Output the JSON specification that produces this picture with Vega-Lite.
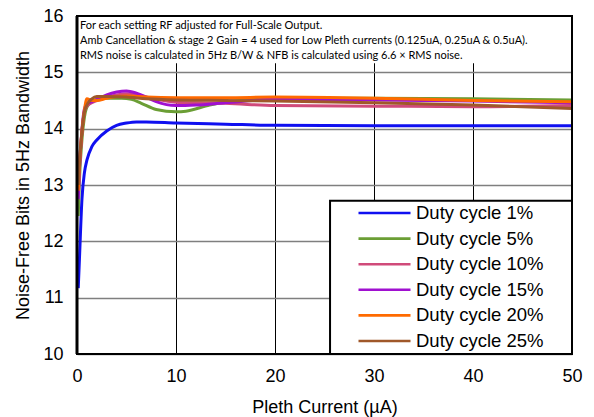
{
  "$schema": "https://vega.github.io/schema/vega-lite/v6.json",
  "width": 495,
  "height": 338,
  "autosize": {"type": "none"},
  "padding": {"left": 77, "top": 16, "right": 22, "bottom": 63},
  "background": "white",
  "config": {
    "view": {"stroke": null},
    "font": "Liberation Sans",
    "axis": {
      "labelFont": "Liberation Sans",
      "titleFont": "Liberation Sans",
      "labelFontSize": 18,
      "titleFontSize": 18,
      "titleFontWeight": "normal",
      "labelColor": "#000000",
      "titleColor": "#000000",
      "labelFlush": false,
      "ticks": false,
      "domain": false,
      "format": "d"
    },
    "legend": {
      "orient": "none",
      "legendX": 280,
      "legendY": 189,
      "padding": 0,
      "symbolType": "stroke",
      "symbolSize": 2704,
      "symbolStrokeWidth": 2.6,
      "clipHeight": 16,
      "rowPadding": 6.6,
      "labelFont": "Liberation Sans",
      "labelFontSize": 18.5,
      "labelColor": "#000000",
      "labelOffset": 4,
      "labelLimit": 200
    }
  },
  "datasets": {
    "nfb": [
      {"series": "Duty cycle 1%", "current": 0.125, "bits": 11.17},
      {"series": "Duty cycle 1%", "current": 0.25, "bits": 11.7},
      {"series": "Duty cycle 1%", "current": 0.5, "bits": 12.75},
      {"series": "Duty cycle 1%", "current": 0.75, "bits": 13.22},
      {"series": "Duty cycle 1%", "current": 1, "bits": 13.44},
      {"series": "Duty cycle 1%", "current": 1.5, "bits": 13.68},
      {"series": "Duty cycle 1%", "current": 2, "bits": 13.8},
      {"series": "Duty cycle 1%", "current": 3, "bits": 13.96},
      {"series": "Duty cycle 1%", "current": 4, "bits": 14.06},
      {"series": "Duty cycle 1%", "current": 5, "bits": 14.1},
      {"series": "Duty cycle 1%", "current": 6, "bits": 14.12},
      {"series": "Duty cycle 1%", "current": 7, "bits": 14.12},
      {"series": "Duty cycle 1%", "current": 10, "bits": 14.1},
      {"series": "Duty cycle 1%", "current": 15, "bits": 14.08},
      {"series": "Duty cycle 1%", "current": 20, "bits": 14.06},
      {"series": "Duty cycle 1%", "current": 30, "bits": 14.05},
      {"series": "Duty cycle 1%", "current": 40, "bits": 14.05},
      {"series": "Duty cycle 1%", "current": 50, "bits": 14.05},

      {"series": "Duty cycle 5%", "current": 0.125, "bits": 12.45},
      {"series": "Duty cycle 5%", "current": 0.25, "bits": 13.1},
      {"series": "Duty cycle 5%", "current": 0.5, "bits": 13.8},
      {"series": "Duty cycle 5%", "current": 0.75, "bits": 14.2},
      {"series": "Duty cycle 5%", "current": 1, "bits": 14.38},
      {"series": "Duty cycle 5%", "current": 1.5, "bits": 14.48},
      {"series": "Duty cycle 5%", "current": 2, "bits": 14.52},
      {"series": "Duty cycle 5%", "current": 3, "bits": 14.54},
      {"series": "Duty cycle 5%", "current": 4.5, "bits": 14.54},
      {"series": "Duty cycle 5%", "current": 5.5, "bits": 14.52},
      {"series": "Duty cycle 5%", "current": 6.5, "bits": 14.45},
      {"series": "Duty cycle 5%", "current": 8, "bits": 14.34},
      {"series": "Duty cycle 5%", "current": 10, "bits": 14.3},
      {"series": "Duty cycle 5%", "current": 11, "bits": 14.31},
      {"series": "Duty cycle 5%", "current": 13.4, "bits": 14.42},
      {"series": "Duty cycle 5%", "current": 15, "bits": 14.47},
      {"series": "Duty cycle 5%", "current": 18, "bits": 14.52},
      {"series": "Duty cycle 5%", "current": 20, "bits": 14.54},
      {"series": "Duty cycle 5%", "current": 30, "bits": 14.54},
      {"series": "Duty cycle 5%", "current": 40, "bits": 14.53},
      {"series": "Duty cycle 5%", "current": 50, "bits": 14.51},

      {"series": "Duty cycle 10%", "current": 0.125, "bits": 12.8},
      {"series": "Duty cycle 10%", "current": 0.25, "bits": 13.3},
      {"series": "Duty cycle 10%", "current": 0.5, "bits": 13.95},
      {"series": "Duty cycle 10%", "current": 0.75, "bits": 14.3},
      {"series": "Duty cycle 10%", "current": 1, "bits": 14.4},
      {"series": "Duty cycle 10%", "current": 1.5, "bits": 14.46},
      {"series": "Duty cycle 10%", "current": 2, "bits": 14.5},
      {"series": "Duty cycle 10%", "current": 3, "bits": 14.56},
      {"series": "Duty cycle 10%", "current": 4, "bits": 14.6},
      {"series": "Duty cycle 10%", "current": 5, "bits": 14.62},
      {"series": "Duty cycle 10%", "current": 6, "bits": 14.6},
      {"series": "Duty cycle 10%", "current": 8, "bits": 14.52},
      {"series": "Duty cycle 10%", "current": 10, "bits": 14.47},
      {"series": "Duty cycle 10%", "current": 12, "bits": 14.46},
      {"series": "Duty cycle 10%", "current": 15, "bits": 14.45},
      {"series": "Duty cycle 10%", "current": 20, "bits": 14.41},
      {"series": "Duty cycle 10%", "current": 30, "bits": 14.4},
      {"series": "Duty cycle 10%", "current": 40, "bits": 14.39},
      {"series": "Duty cycle 10%", "current": 50, "bits": 14.41},

      {"series": "Duty cycle 15%", "current": 0.125, "bits": 12.75},
      {"series": "Duty cycle 15%", "current": 0.25, "bits": 13.3},
      {"series": "Duty cycle 15%", "current": 0.5, "bits": 13.98},
      {"series": "Duty cycle 15%", "current": 0.75, "bits": 14.35},
      {"series": "Duty cycle 15%", "current": 1, "bits": 14.44},
      {"series": "Duty cycle 15%", "current": 1.5, "bits": 14.48},
      {"series": "Duty cycle 15%", "current": 2, "bits": 14.52},
      {"series": "Duty cycle 15%", "current": 3, "bits": 14.6},
      {"series": "Duty cycle 15%", "current": 4, "bits": 14.65},
      {"series": "Duty cycle 15%", "current": 5, "bits": 14.67},
      {"series": "Duty cycle 15%", "current": 6, "bits": 14.63},
      {"series": "Duty cycle 15%", "current": 7, "bits": 14.56},
      {"series": "Duty cycle 15%", "current": 8, "bits": 14.48},
      {"series": "Duty cycle 15%", "current": 10, "bits": 14.41},
      {"series": "Duty cycle 15%", "current": 12, "bits": 14.42},
      {"series": "Duty cycle 15%", "current": 15, "bits": 14.46},
      {"series": "Duty cycle 15%", "current": 20, "bits": 14.52},
      {"series": "Duty cycle 15%", "current": 30, "bits": 14.51},
      {"series": "Duty cycle 15%", "current": 40, "bits": 14.49},
      {"series": "Duty cycle 15%", "current": 50, "bits": 14.46},

      {"series": "Duty cycle 20%", "current": 0.125, "bits": 12.9},
      {"series": "Duty cycle 20%", "current": 0.25, "bits": 13.35},
      {"series": "Duty cycle 20%", "current": 0.5, "bits": 13.95},
      {"series": "Duty cycle 20%", "current": 0.75, "bits": 14.33},
      {"series": "Duty cycle 20%", "current": 1, "bits": 14.53},
      {"series": "Duty cycle 20%", "current": 1.5, "bits": 14.5},
      {"series": "Duty cycle 20%", "current": 2, "bits": 14.5},
      {"series": "Duty cycle 20%", "current": 3, "bits": 14.54},
      {"series": "Duty cycle 20%", "current": 4, "bits": 14.57},
      {"series": "Duty cycle 20%", "current": 5, "bits": 14.58},
      {"series": "Duty cycle 20%", "current": 7, "bits": 14.56},
      {"series": "Duty cycle 20%", "current": 10, "bits": 14.55},
      {"series": "Duty cycle 20%", "current": 15, "bits": 14.55},
      {"series": "Duty cycle 20%", "current": 20, "bits": 14.56},
      {"series": "Duty cycle 20%", "current": 30, "bits": 14.54},
      {"series": "Duty cycle 20%", "current": 40, "bits": 14.5},
      {"series": "Duty cycle 20%", "current": 50, "bits": 14.48},

      {"series": "Duty cycle 25%", "current": 0.125, "bits": 13.0},
      {"series": "Duty cycle 25%", "current": 0.25, "bits": 13.4},
      {"series": "Duty cycle 25%", "current": 0.5, "bits": 13.95},
      {"series": "Duty cycle 25%", "current": 0.75, "bits": 14.3},
      {"series": "Duty cycle 25%", "current": 1, "bits": 14.42},
      {"series": "Duty cycle 25%", "current": 1.5, "bits": 14.53},
      {"series": "Duty cycle 25%", "current": 2, "bits": 14.57},
      {"series": "Duty cycle 25%", "current": 3, "bits": 14.57},
      {"series": "Duty cycle 25%", "current": 5, "bits": 14.56},
      {"series": "Duty cycle 25%", "current": 7, "bits": 14.53},
      {"series": "Duty cycle 25%", "current": 10, "bits": 14.51},
      {"series": "Duty cycle 25%", "current": 15, "bits": 14.5},
      {"series": "Duty cycle 25%", "current": 20, "bits": 14.49},
      {"series": "Duty cycle 25%", "current": 30, "bits": 14.46},
      {"series": "Duty cycle 25%", "current": 40, "bits": 14.42},
      {"series": "Duty cycle 25%", "current": 50, "bits": 14.36}
    ]
  },
  "layer": [
    {
      "description": "White panel behind the test-condition notes",
      "data": {"values": [{}]},
      "mark": {"type": "rect", "fill": "white"},
      "encoding": {
        "x": {"datum": 0, "type": "quantitative", "scale": {"domain": [0, 50]},
              "axis": {"values": [0, 10, 20, 30, 40, 50], "grid": true, "gridColor": "#000000", "gridWidth": 1, "gridOpacity": 1, "labelPadding": 13, "titlePadding": 13, "title": "Pleth Current (µA)"}},
        "x2": {"datum": 50},
        "y": {"datum": 15.16, "type": "quantitative", "scale": {"domain": [10, 16]},
              "axis": {"values": [10, 11, 12, 13, 14, 15, 16], "grid": true, "gridColor": "#7f7f7f", "gridWidth": 1.6, "gridOpacity": 1, "labelPadding": 14, "titlePadding": 10, "title": "Noise-Free Bits in 5Hz Bandwidth"}},
        "y2": {"datum": 16}
      }
    },
    {
      "description": "Test-condition notes",
      "data": {"values": [{}]},
      "mark": {"type": "text", "align": "left", "baseline": "middle", "font": "Lato", "fontSize": 11, "lineHeight": 15, "color": "#000000"},
      "encoding": {
        "x": {"datum": 0.3, "type": "quantitative"},
        "y": {"datum": 15.83, "type": "quantitative"},
        "text": {"value": [
          "For each setting RF adjusted for Full-Scale Output.",
          "Amb Cancellation & stage 2 Gain = 4 used for Low Pleth currents (0.125uA, 0.25uA & 0.5uA).",
          "RMS noise is calculated in 5Hz B/W & NFB is calculated using 6.6 × RMS noise."
        ]}
      }
    },
    {
      "data": {"name": "nfb"},
      "mark": {"type": "line", "interpolate": "monotone", "strokeWidth": 3},
      "encoding": {
        "x": {"field": "current", "type": "quantitative"},
        "y": {"field": "bits", "type": "quantitative"},
        "color": {
          "field": "series",
          "type": "nominal",
          "sort": ["Duty cycle 1%", "Duty cycle 5%", "Duty cycle 10%", "Duty cycle 15%", "Duty cycle 20%", "Duty cycle 25%"],
          "scale": {
            "domain": ["Duty cycle 1%", "Duty cycle 5%", "Duty cycle 10%", "Duty cycle 15%", "Duty cycle 20%", "Duty cycle 25%"],
            "range": ["#1010f0", "#6b9e35", "#d04a7a", "#a010d0", "#ff6a00", "#a0582a"]
          },
          "legend": {"title": null}
        },
        "order": {"field": "current", "type": "quantitative"}
      }
    },
    {
      "description": "Plot frame",
      "data": {"values": [{}]},
      "mark": {"type": "rect", "fill": null, "fillOpacity": 0, "stroke": "#000000", "strokeWidth": 2},
      "encoding": {
        "x": {"datum": 0, "type": "quantitative"},
        "x2": {"datum": 50},
        "y": {"datum": 10, "type": "quantitative"},
        "y2": {"datum": 16}
      }
    },
    {
      "description": "Heavier left edge of the frame",
      "data": {"values": [{}]},
      "mark": {"type": "rule", "stroke": "#000000", "strokeWidth": 3},
      "encoding": {
        "x": {"datum": 0, "type": "quantitative"},
        "y": {"datum": 10, "type": "quantitative"},
        "y2": {"datum": 16}
      }
    },
    {
      "description": "Legend panel",
      "data": {"values": [{}]},
      "mark": {"type": "rect", "fill": "white", "stroke": "#000000", "strokeWidth": 2},
      "encoding": {
        "x": {"datum": 25.56, "type": "quantitative"},
        "x2": {"datum": 50},
        "y": {"datum": 10, "type": "quantitative"},
        "y2": {"datum": 12.72}
      }
    }
  ]
}
